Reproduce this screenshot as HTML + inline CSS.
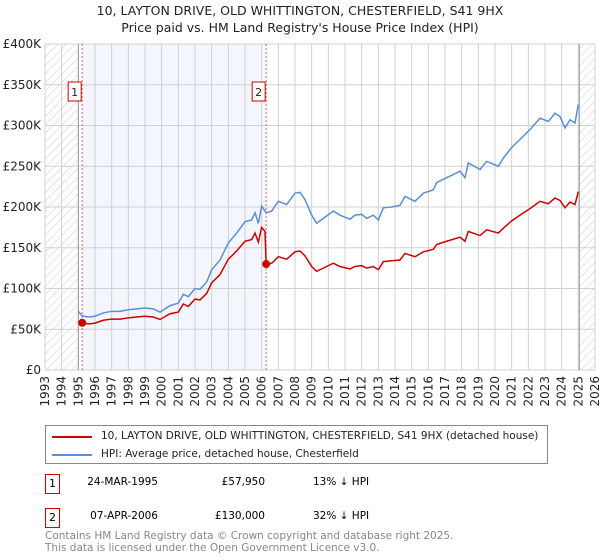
<!DOCTYPE html>
<html><head><meta charset="utf-8"><style>
body{margin:0;background:#fff;font-family:"DejaVu Sans","Liberation Sans",sans-serif;}
#wrap{position:relative;width:600px;height:560px;overflow:hidden}
.t{position:absolute;white-space:nowrap}
</style></head><body>
<div id="wrap">
<div class="t" style="left:0;width:600px;text-align:center;top:3px;font-size:12.5px;color:#222">10, LAYTON DRIVE, OLD WHITTINGTON, CHESTERFIELD, S41 9HX</div>
<div class="t" style="left:0;width:600px;text-align:center;top:20px;font-size:12.5px;color:#222">Price paid vs. HM Land Registry's House Price Index (HPI)</div>
<svg id="chart" width="600" height="420" style="position:absolute;left:0;top:0" font-family="DejaVu Sans, Liberation Sans, sans-serif">
<defs><pattern id="hatch" width="6" height="6" patternUnits="userSpaceOnUse" patternTransform="rotate(45)"><line x1="0" y1="0" x2="0" y2="6" stroke="#ccc" stroke-width="1"/></pattern></defs>
</svg>
<div style="position:absolute;left:45px;top:425px;width:503px;height:39px;border:1px solid #888;box-sizing:border-box">
<div><div style="position:absolute;left:6px;top:10px;width:40px;height:2px;background:#cc0000"></div><div class="t" style="left:55px;top:4px;font-size:10.5px;color:#222">10, LAYTON DRIVE, OLD WHITTINGTON, CHESTERFIELD, S41 9HX (detached house)</div></div>
<div><div style="position:absolute;left:6px;top:28px;width:40px;height:2px;background:#5b8fd4"></div><div class="t" style="left:55px;top:22px;font-size:10.5px;color:#222">HPI: Average price, detached house, Chesterfield</div></div>
</div>
<div>
<div class="t" style="left:45px;top:474px;width:13px;height:18px;border:1px solid #c00;font-size:11px;text-align:center;line-height:18px">1</div>
<div class="t" style="left:60px;width:98px;text-align:right;top:476px;font-size:10.5px">24-MAR-1995</div>
<div class="t" style="left:180px;width:85px;text-align:right;top:476px;font-size:10.5px">£57,950</div>
<div class="t" style="left:313px;top:476px;font-size:10.5px">13% ↓ HPI</div>
</div>
<div>
<div class="t" style="left:45px;top:508px;width:13px;height:18px;border:1px solid #c00;font-size:11px;text-align:center;line-height:18px">2</div>
<div class="t" style="left:60px;width:98px;text-align:right;top:510px;font-size:10.5px">07-APR-2006</div>
<div class="t" style="left:180px;width:85px;text-align:right;top:510px;font-size:10.5px">£130,000</div>
<div class="t" style="left:313px;top:510px;font-size:10.5px">32% ↓ HPI</div>
</div>
<div class="t" style="left:45px;top:530px;font-size:10.5px;color:#888;line-height:12px">Contains HM Land Registry data © Crown copyright and database right 2025.<br>This data is licensed under the Open Government Licence v3.0.</div>
</div>
<script>
const yTicks=[0,50,100,150,200,250,300,350,400];
const yTickLabels=["£0","£50K","£100K","£150K","£200K","£250K","£300K","£350K","£400K"];
const xYears=[1993,1994,1995,1996,1997,1998,1999,2000,2001,2002,2003,2004,2005,2006,2007,2008,2009,2010,2011,2012,2013,2014,2015,2016,2017,2018,2019,2020,2021,2022,2023,2024,2025,2026];
const hpiDates=[1995.0,1995.23,1995.6,1996.0,1996.5,1997.0,1997.5,1998.0,1998.5,1999.0,1999.5,1999.9,2000.5,2001.0,2001.3,2001.6,2002.0,2002.3,2002.7,2003.0,2003.5,2004.0,2004.5,2005.0,2005.4,2005.6,2005.8,2006.0,2006.27,2006.6,2007.0,2007.5,2008.0,2008.3,2008.6,2009.0,2009.3,2009.7,2010.3,2010.7,2011.3,2011.6,2012.0,2012.3,2012.7,2013.0,2013.3,2013.8,2014.3,2014.6,2015.2,2015.7,2016.3,2016.5,2017.1,2017.9,2018.2,2018.4,2019.1,2019.5,2020.2,2020.5,2021.0,2021.5,2022.1,2022.7,2023.2,2023.6,2023.9,2024.2,2024.5,2024.8,2025.0];
const hpiValues=[72,66.5,65,66,70,72,72,74,75,76,75,71,79,82,93,90,100,99,108,123,135,156,168,182,184,193,180,201,193,195,207,203,217,218,209,190,180,186,195,190,185,190,191,186,190,184,199,200,202,213,207,217,221,230,236,244,236,254,246,256,250,260,273,283,295,309,305,315,311,297,307,303,326];
const priceDates=[1995.23,1995.6,1996.0,1996.5,1997.0,1997.5,1998.0,1998.5,1999.0,1999.5,1999.9,2000.5,2001.0,2001.3,2001.6,2002.0,2002.3,2002.7,2003.0,2003.5,2004.0,2004.5,2005.0,2005.4,2005.6,2005.8,2006.0,2006.2,2006.27,2006.6,2007.0,2007.5,2008.0,2008.3,2008.6,2009.0,2009.3,2009.7,2010.3,2010.7,2011.3,2011.6,2012.0,2012.3,2012.7,2013.0,2013.3,2013.8,2014.3,2014.6,2015.2,2015.7,2016.3,2016.5,2017.1,2017.9,2018.2,2018.4,2019.1,2019.5,2020.2,2020.5,2021.0,2021.5,2022.1,2022.7,2023.2,2023.6,2023.9,2024.2,2024.5,2024.8,2025.0];
const priceValues=[58,56.5,57.5,61,62.5,62.5,64,65,66,65,62,69,71,81,78,87,86,94,107,117,136,146,158,160,168,157,175,170,130,131,139,136,145,146,140,127,121,125,131,127,124,127,128,125,127,123,133,134,135,143,139,145,148,154,158,163,158,170,165,172,168,174,183,190,198,207,204,211,208,199,206,203,219];
const saleDates=[1995.23,2006.27];
const saleValues=[57.95,130];
const saleLabels=["1","2"];
const dataStart=1995.0, dataEnd=2025.06;

const svg=document.getElementById('chart');
const NS='http://www.w3.org/2000/svg';
const X0=45,X1=595,Y0=370,Y1=44;
const xs=y=>X0+(y-1993)/(2026-1993)*(X1-X0);
const ys=v=>Y0-v/400*(Y0-Y1);
function mk(t,a,p){const e=document.createElementNS(NS,t);for(const k in a)e.setAttribute(k,a[k]);(p||svg).appendChild(e);return e;}
let r=mk('rect',{x:X0,y:Y1,width:xs(dataStart)-X0,height:Y0-Y1,fill:'url(#hatch)'});


r=mk('rect',{x:xs(dataEnd),y:Y1,width:X1-xs(dataEnd),height:Y0-Y1,fill:'url(#hatch)'});


r=mk('rect',{x:xs(saleDates[0]),y:Y1,width:xs(saleDates[1])-xs(saleDates[0]),height:Y0-Y1,fill:'#f3f6fd'});


xYears.forEach(yr=>{const l=mk('line',{x1:xs(yr),x2:xs(yr),y1:Y1,y2:Y0,stroke:'#d0d0d0','stroke-width':1});


const t=mk('text',{x:0,y:0,transform:`translate(${xs(yr)+4},${Y0+6}) rotate(-90)`,'text-anchor':'end','font-size':12,fill:'#222'});t.textContent=yr;

});
yTicks.forEach((v,i)=>{const l=mk('line',{x1:X0,x2:X1,y1:ys(v),y2:ys(v),stroke:'#d0d0d0','stroke-width':1});


const t=mk('text',{x:41,y:ys(v)+4,'text-anchor':'end','font-size':12,fill:'#222'});t.textContent=yTickLabels[i];

});
[dataStart,dataEnd].forEach(d=>{const l=mk('line',{x1:xs(d),x2:xs(d),y1:Y1,y2:Y0,stroke:'#999','stroke-width':1});

});
saleDates.forEach((d,i)=>{const l=mk('line',{x1:xs(d),x2:xs(d),y1:Y1,y2:Y0,stroke:'#e06060','stroke-width':1,'stroke-dasharray':'2,2'});


const bx=xs(d)-14,by=82;
const b=mk('rect',{x:bx,y:by,width:13,height:19,fill:'#fff',stroke:'#c00','stroke-width':1});


const t=mk('text',{x:bx+6.5,y:by+14,'text-anchor':'middle','font-size':11,fill:'#222'});t.textContent=saleLabels[i];

});
let p=mk('polyline',{points:hpiDates.map((d,i)=>xs(d)+','+ys(hpiValues[i])).join(' '),fill:'none',stroke:'#5b8fd4','stroke-width':1.5});


p=mk('polyline',{points:priceDates.map((d,i)=>xs(d)+','+ys(priceValues[i])).join(' '),fill:'none',stroke:'#cc0000','stroke-width':1.5});


saleDates.forEach((d,i)=>{const c=mk('circle',{cx:xs(d),cy:ys(saleValues[i]),r:4,fill:'#cc0000'});

});
</script>
</body></html>
